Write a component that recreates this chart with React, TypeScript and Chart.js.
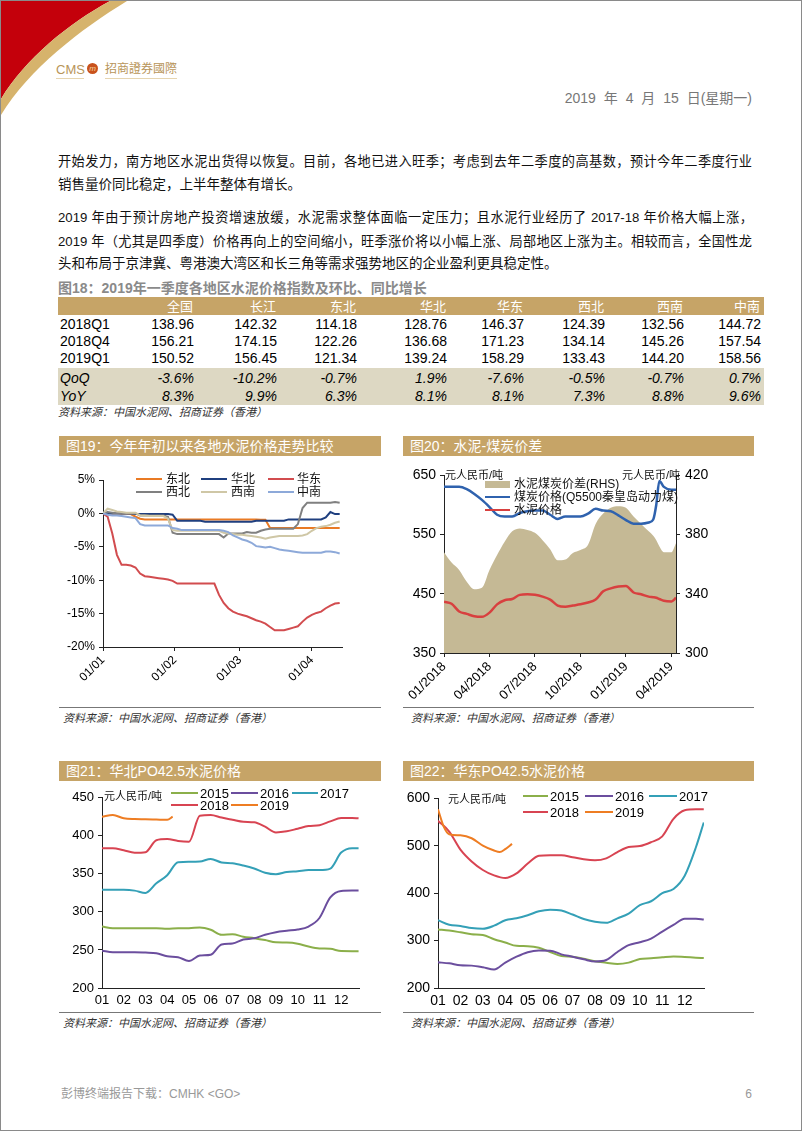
import React, { useEffect, useRef } from 'react';
import { Chart, registerables } from 'chart.js';
Chart.register(...registerables);

// ---------------- DATA ----------------
// Fig 18 table
const regions = ['全国', '长江', '东北', '华北', '华东', '西北', '西南', '中南'];
const rowLabels = ['2018Q1', '2018Q4', '2019Q1'];
const q2018Q1 = [138.96, 142.32, 114.18, 128.76, 146.37, 124.39, 132.56, 144.72];
const q2018Q4 = [156.21, 174.15, 122.26, 136.68, 171.23, 134.14, 145.26, 157.54];
const q2019Q1 = [150.52, 156.45, 121.34, 139.24, 158.29, 133.43, 144.2, 158.56];
const qoq = ['-3.6%', '-10.2%', '-0.7%', '1.9%', '-7.6%', '-0.5%', '-0.7%', '0.7%'];
const yoy = ['8.3%', '9.9%', '6.3%', '8.1%', '8.1%', '7.3%', '8.8%', '9.6%'];

// Fig 19 (% change since 1 Jan, by day of year)
const xTickDays19 = [0, 31, 59, 90];
const xTickLabels19 = ['01/01', '01/02', '01/03', '01/04'];
const days19 = [0, 2, 4, 6, 8, 10, 12, 14, 16, 18, 20, 22, 24, 26, 28, 30, 32, 34, 36, 38, 40, 42, 44, 46, 48, 50, 52, 54, 56, 58, 60, 62, 64, 66, 68, 70, 72, 74, 76, 78, 80, 82, 84, 86, 88, 90, 92, 94, 96, 98, 100, 102];
const northeast19 = [0, 0, 0, 0, 0, 0, -0.1, -0.5, -0.8, -0.9, -0.9, -0.9, -0.9, -0.9, -0.9, -0.9, -0.9, -0.9, -0.9, -0.9, -0.9, -0.9, -0.9, -0.9, -0.9, -0.9, -0.9, -0.9, -0.9, -0.9, -0.9, -0.9, -0.9, -0.9, -0.95, -0.95, -2.2, -2.2, -2.2, -2.2, -2.2, -2.2, -2.2, -2.2, -2.2, -2.2, -2.2, -2.2, -2.2, -2.2, -2.2, -2.2];
const north19 = [0, 0, 0, 0, 0, 0, 0, -0.1, -0.1, -0.1, -0.1, -0.1, -0.1, -0.1, -0.1, -0.2, -1.1, -1.1, -1.1, -1.1, -1.1, -1.1, -1.25, -1.25, -1.25, -1.25, -1.25, -1.25, -1.25, -1.25, -1.25, -1.25, -1.25, -1.1, -1.1, -1.1, -1.1, -1.1, -1.1, -1.1, -0.9, -0.9, -0.9, -0.9, -0.9, -0.9, -0.9, -0.9, -0.6, 0.2, -0.1, -0.1];
const east19 = [0, -0.5, -3.0, -6.2, -7.7, -7.7, -7.8, -8.1, -9.0, -9.4, -9.5, -9.6, -9.7, -9.8, -9.9, -10.1, -10.5, -10.5, -10.5, -10.5, -10.5, -10.5, -10.5, -10.5, -10.5, -12.2, -13.4, -14.2, -14.7, -15.0, -15.2, -15.4, -15.7, -16.0, -16.2, -16.5, -17.0, -17.5, -17.5, -17.5, -17.3, -17.1, -16.9, -16.2, -15.6, -15.2, -14.9, -14.7, -14.2, -13.8, -13.5, -13.4];
const northwest19 = [0, 0.2, 0.1, 0, 0, 0, 0, 0, -0.3, -0.3, -0.3, -0.3, -0.3, -0.3, -0.5, -2.9, -3.1, -3.1, -3.1, -3.1, -3.1, -3.1, -3.1, -3.1, -3.1, -3.1, -3.6, -3.0, -3.0, -3.0, -3.0, -2.8, -2.9, -2.9, -2.6, -2.4, -2.3, -2.3, -2.3, -2.3, -2.3, -2.3, -1.6, 0.8, 1.6, 1.6, 1.6, 1.6, 1.6, 1.6, 1.7, 1.6];
const southwest19 = [0, 0.7, 0.5, 0.3, 0.2, 0.1, 0.1, 0.1, -0.3, -0.3, -0.4, -0.4, -0.4, -0.4, -0.8, -2.5, -2.6, -2.6, -2.6, -2.6, -2.6, -2.6, -2.6, -2.6, -2.6, -2.6, -2.9, -3.0, -3.1, -3.2, -3.2, -3.3, -3.4, -3.5, -3.6, -3.8, -3.6, -3.5, -3.4, -3.4, -3.4, -3.4, -3.4, -3.3, -3.1, -2.6, -2.2, -2.0, -1.9, -1.7, -1.4, -1.2];
const central19 = [0, -0.2, -0.3, -0.3, -0.4, -0.5, -0.6, -0.7, -1.6, -1.8, -1.8, -1.8, -1.8, -1.8, -1.8, -2.2, -2.3, -2.5, -2.5, -2.5, -2.5, -2.5, -2.5, -2.5, -2.5, -2.5, -2.6, -2.8, -3.3, -3.6, -3.9, -4.1, -4.4, -4.9, -5.0, -5.1, -5.0, -5.2, -5.4, -5.5, -5.6, -5.7, -5.8, -5.9, -5.9, -5.9, -5.9, -5.9, -5.7, -5.7, -5.8, -6.0];

// Fig 20 (months since Jan 2018)
const xTickMonths20 = [0, 3, 6, 9, 12, 15];
const xTickLabels20 = ['01/2018', '04/2018', '07/2018', '10/2018', '01/2019', '04/2019'];
const months20 = [0, 0.5, 1, 1.5, 2, 2.5, 3, 3.5, 4, 4.5, 5, 5.5, 6, 6.5, 7, 7.5, 8, 8.5, 9, 9.5, 10, 10.5, 11, 11.5, 12, 12.5, 13, 13.5, 13.8, 14, 14.2, 14.5, 15, 15.3];
const spread20 = [368, 361, 356, 348, 343, 344, 356, 366, 375, 382, 384, 383, 381, 376, 370, 362.5, 363, 367.5, 369.5, 373, 387, 394, 398, 399, 398, 392, 387, 382, 379, 376, 372, 368, 368, 374];
const coal20 = [630, 630, 630, 626, 618, 608, 596, 583, 580, 580, 586, 589, 590, 590, 583, 576, 580, 580, 580, 585, 593, 590, 589, 582, 574, 568, 568, 570, 575, 600, 640, 630, 625, 625];
const cement20 = [436.5, 433, 420, 416, 412, 411, 418, 432, 439, 441, 448, 449, 448, 445, 440, 430, 428, 430, 432, 435, 440, 454, 459, 462, 463, 452, 449, 445, 444, 443, 441, 438, 437, 443];

// Fig 21 / 22 (month index, 0 = Jan)
const monthLabels = ['01', '02', '03', '04', '05', '06', '07', '08', '09', '10', '11', '12'];
const months21 = [0, 0.5, 1, 1.5, 2, 2.5, 3, 3.5, 4, 4.5, 5, 5.5, 6, 6.5, 7, 7.5, 8, 8.5, 9, 9.5, 10, 10.5, 11, 11.5, 11.8];
const n2015 = [280.8, 278.6, 278.6, 278.6, 278.6, 278.6, 278, 278.6, 278.6, 279.5, 276.5, 270, 270.5, 267.5, 265.5, 263, 260, 259.8, 258.3, 254.5, 252, 251.5, 248.5, 248.3, 248.3];
const n2016 = [249, 247, 247, 247, 246.5, 245.7, 241.7, 240.5, 235.5, 242.6, 243.8, 257.3, 258.5, 263.7, 265.3, 270, 273.4, 275.3, 276.8, 280.8, 292, 319, 327.5, 328, 328];
const n2017 = [329, 329, 329, 328, 325, 337.6, 348.3, 365.4, 365.8, 366.2, 369.7, 365, 364, 361, 357, 351.5, 349.5, 352.4, 353.5, 355, 355, 357, 378, 383.8, 383.8];
const n2018 = [383.8, 383.8, 381, 377.8, 378.5, 394.3, 395.8, 393.2, 392.3, 426.5, 427.4, 424, 421.2, 418.5, 417.8, 412, 404.5, 406, 409.4, 412.8, 414, 419, 423.5, 423.5, 423];
const months21y19 = [0, 0.5, 1, 1.5, 2, 2.5, 3, 3.25];
const n2019 = [425.2, 427.4, 423, 422, 421.8, 421.4, 421, 425.2];

const months22 = [0, 0.5, 1, 1.5, 2, 2.5, 3, 3.5, 4, 4.5, 5, 5.5, 6, 6.5, 7, 7.5, 8, 8.5, 9, 9.5, 10, 10.5, 11, 11.5, 11.85];
const e2015 = [323.6, 321.2, 317.5, 313.5, 311.9, 302.8, 296, 288.9, 288.2, 285, 276, 267.5, 265.8, 262, 256.5, 253.5, 250.7, 253.5, 261.2, 262.8, 265, 266.7, 265.5, 264, 263.2];
const e2016 = [254.2, 252, 248, 247.2, 243.8, 239, 253.5, 266, 275.5, 279, 278.8, 271, 266, 260.5, 255.8, 259, 276, 290.5, 296.5, 304.2, 319, 333, 346, 346, 344.4];
const e2017 = [343, 333.5, 331, 326.5, 325, 331.5, 343, 347, 353.5, 362, 365.3, 363.5, 355, 345.5, 339.8, 337.5, 347, 357, 375, 383, 400, 409, 437, 497, 549.3];
const e2018 = [552.8, 530, 492, 467, 449, 437.5, 432, 441.7, 462.5, 478.8, 479.9, 479.9, 476, 471.5, 469.4, 473.5, 486.8, 497.5, 499.5, 507.6, 520, 557, 575, 577, 577];
const months22y19 = [0, 0.25, 0.5, 1, 1.5, 2, 2.5, 2.75, 3, 3.3];
const e2019 = [577, 541, 524.5, 522, 516, 500.5, 490, 486.8, 493, 504];

// Text
const para1 = [
  '开始发力，南方地区水泥出货得以恢复。目前，各地已进入旺季；考虑到去年二季度的高基数，预计今年二季度行业',
  '销售量价同比稳定，上半年整体有增长。',
];
const para2 = [
  '2019 年由于预计房地产投资增速放缓，水泥需求整体面临一定压力；且水泥行业经历了 2017-18 年价格大幅上涨，',
  '2019 年（尤其是四季度）价格再向上的空间缩小，旺季涨价将以小幅上涨、局部地区上涨为主。相较而言，全国性龙',
  '头和布局于京津冀、粤港澳大湾区和长三角等需求强势地区的企业盈利更具稳定性。',
];
const sourceText = '资料来源：中国水泥网、招商证券（香港）';

// ---------------- STYLE ----------------
const GOLD = '#C6A467';
const BEIGE = '#DDD8C3';
const CJK = '"Liberation Sans", "Noto Sans CJK SC", sans-serif';
const LAT = '"Liberation Sans", Arial, sans-serif';
const AX = '#222';
const C19 = ['#E97A24', '#1F3F7F', '#D24C4F', '#808080', '#CFC7A6', '#8DA9D9'];
const CY = { y2015: '#8BAF4A', y2016: '#6B4E9E', y2017: '#34A0B7', y2018: '#D84452', y2019: '#EE7D23' };

const tickFont = (s: number) => ({ family: LAT, size: s });

function pts(xs: number[], ys: number[]) {
  return xs.map((x, i) => ({ x, y: ys[i] }));
}

function baseOptions(pad: any) {
  return {
    responsive: false,
    animation: false,
    events: [],
    layout: { padding: pad },
    plugins: { legend: { display: false }, tooltip: { enabled: false } },
  };
}

function make19(): any {
  const list: [string, number[]][] = [
    ['东北', northeast19], ['华北', north19], ['华东', east19],
    ['西北', northwest19], ['西南', southwest19], ['中南', central19],
  ];
  return {
    type: 'line',
    data: {
      datasets: list.map(([label, vals], i) => ({
        label, data: pts(days19, vals), borderColor: C19[i], backgroundColor: C19[i],
        borderWidth: 2, pointRadius: 0, tension: 0, order: list.length - i,
      })),
    },
    options: {
      ...baseOptions({ left: 0, right: 39, top: 19, bottom: 4 }),
      scales: {
        x: {
          type: 'linear', min: 0, max: 103,
          afterBuildTicks: (s: any) => { s.ticks = xTickDays19.map((v) => ({ value: v })); },
          afterFit: (s: any) => { s.height = 50; },
          ticks: {
            autoSkip: false, minRotation: 45, maxRotation: 45, padding: 2, color: '#000', font: tickFont(12),
            callback: (v: any) => xTickLabels19[xTickDays19.indexOf(Number(v))] ?? '',
          },
          grid: { drawOnChartArea: false, drawTicks: true, tickLength: 4, color: AX },
          border: { color: AX },
        },
        y: {
          min: -20, max: 5,
          afterFit: (s: any) => { s.width = 45; },
          ticks: { stepSize: 5, padding: 4, color: '#000', font: tickFont(12), callback: (v: any) => v + '%' },
          grid: { drawOnChartArea: false, tickLength: 4, color: AX },
          border: { color: AX },
        },
      },
    },
  };
}

function make20(): any {
  return {
    type: 'line',
    data: {
      datasets: [
        { label: '水泥煤炭价差(RHS)', data: pts(months20, spread20), yAxisID: 'y1', fill: 'start',
          backgroundColor: '#C5B995', borderColor: '#C5B995', borderWidth: 0, pointRadius: 0, tension: 0.3, cubicInterpolationMode: 'monotone', order: 10 },
        { label: '煤炭价格(Q5500秦皇岛动力煤)', data: pts(months20, coal20), yAxisID: 'y',
          borderColor: '#2F62AE', borderWidth: 2.5, pointRadius: 0, tension: 0.3, cubicInterpolationMode: 'monotone', order: 1 },
        { label: '水泥价格', data: pts(months20, cement20), yAxisID: 'y',
          borderColor: '#D8403F', borderWidth: 2.5, pointRadius: 0, tension: 0.3, cubicInterpolationMode: 'monotone', order: 2 },
      ],
    },
    options: {
      ...baseOptions({ left: 0, right: 0, top: 14, bottom: 4 }),
      scales: {
        x: {
          type: 'linear', min: 0, max: 15.3,
          afterBuildTicks: (s: any) => { s.ticks = xTickMonths20.map((v) => ({ value: v })); },
          afterFit: (s: any) => { s.height = 50; },
          ticks: {
            autoSkip: false, minRotation: 45, maxRotation: 45, padding: 2, color: '#000', font: tickFont(13),
            callback: (v: any) => xTickLabels20[xTickMonths20.indexOf(Number(v))] ?? '',
          },
          grid: { drawOnChartArea: false, tickLength: 4, color: AX },
          border: { color: AX },
        },
        y: {
          min: 350, max: 650, position: 'left',
          afterFit: (s: any) => { s.width = 41; },
          ticks: { stepSize: 100, padding: 4, color: '#000', font: tickFont(14) },
          grid: { drawOnChartArea: false, tickLength: 4, color: AX },
          border: { color: AX },
        },
        y1: {
          min: 300, max: 420, position: 'right',
          afterFit: (s: any) => { s.width = 78; },
          ticks: { stepSize: 40, padding: 5, color: '#000', font: tickFont(14) },
          grid: { drawOnChartArea: false, tickLength: 4, color: AX },
          border: { color: AX },
        },
      },
    },
  };
}

function makeYearly(xs: number[], series: [string, number[], string][], xs19: number[], v19: number[], c19: string,
  xmax: number, ymin: number, ymax: number, step: number, yw: number, padRight: number, fs: number): any {
  const ds: any[] = series.map(([label, vals, color], i) => ({
    label, data: pts(xs, vals), borderColor: color, borderWidth: 2, pointRadius: 0,
    tension: 0.3, cubicInterpolationMode: 'monotone', order: 10 - i,
  }));
  ds.push({ label: '2019', data: pts(xs19, v19), borderColor: c19, borderWidth: 2, pointRadius: 0,
    tension: 0.3, cubicInterpolationMode: 'monotone', order: 1 });
  return {
    type: 'line',
    data: { datasets: ds },
    options: {
      ...baseOptions({ left: 0, right: padRight, top: 8, bottom: 2 }),
      scales: {
        x: {
          type: 'linear', min: 0, max: xmax,
          afterBuildTicks: (s: any) => { s.ticks = monthLabels.map((_, i) => ({ value: i })); },
          afterFit: (s: any) => { s.height = 20; },
          ticks: { autoSkip: false, maxRotation: 0, padding: 5, color: '#000', font: tickFont(fs),
            callback: (v: any) => monthLabels[Number(v)] ?? '' },
          grid: { drawOnChartArea: false, drawTicks: false, color: AX },
          border: { color: AX },
        },
        y: {
          min: ymin, max: ymax,
          afterFit: (s: any) => { s.width = yw; },
          ticks: { stepSize: step, padding: 4, color: '#000', font: tickFont(fs) },
          grid: { drawOnChartArea: false, tickLength: 4, color: AX },
          border: { color: AX },
        },
      },
    },
  };
}

const make21 = () => makeYearly(months21,
  [['2015', n2015, CY.y2015], ['2016', n2016, CY.y2016], ['2017', n2017, CY.y2017], ['2018', n2018, CY.y2018]],
  months21y19, n2019, CY.y2019, 11.82, 200, 450, 50, 44, 22, 13);
const make22 = () => makeYearly(months22,
  [['2015', e2015, CY.y2015], ['2016', e2016, CY.y2016], ['2017', e2017, CY.y2017], ['2018', e2018, CY.y2018]],
  months22y19, e2019, CY.y2019, 11.86, 200, 600, 100, 35, 50, 14);

// ---------------- COMPONENTS ----------------
function ChartCanvas({ x, y, w, h, make }: { x: number; y: number; w: number; h: number; make: () => any }) {
  const ref = useRef<HTMLCanvasElement | null>(null);
  useEffect(() => {
    const c = new Chart(ref.current as HTMLCanvasElement, make());
    return () => c.destroy();
  }, []);
  return <canvas ref={ref} width={w} height={h} style={{ position: 'absolute', left: x, top: y, width: w, height: h }} />;
}

type TP = { x: number; y: number; size?: number; color?: string; w?: number; align?: 'left' | 'right' | 'justify';
  bold?: boolean; italic?: boolean; font?: string; spacing?: number; children: any };
function Txt({ x, y, size = 14, color = '#000', w, align = 'left', bold, italic, font = CJK, spacing, children }: TP) {
  const lh = Math.round(size * 1.3);
  const st: any = {
    position: 'absolute', top: y - lh / 2, lineHeight: lh + 'px', fontSize: size, color, fontFamily: font,
    fontWeight: bold ? 700 : 400, fontStyle: italic ? 'italic' : 'normal',
  };
  if (spacing) st.wordSpacing = spacing;
  if (align === 'right') {
    const ww = w ?? 300;
    st.left = x - ww; st.width = ww; st.textAlign = 'right'; st.whiteSpace = 'nowrap';
  } else if (align === 'justify') {
    st.left = x; st.width = w; st.textAlign = 'justify'; st.textAlignLast = 'justify'; st.height = lh; st.overflow = 'visible';
  } else {
    st.left = x; st.whiteSpace = 'nowrap';
  }
  return <div style={st}>{children}</div>;
}

function Box({ x, y, w, h, bg }: { x: number; y: number; w: number; h: number; bg: string }) {
  return <div style={{ position: 'absolute', left: x, top: y, width: w, height: h, background: bg }} />;
}

function TitleBar({ x, y, w, text }: { x: number; y: number; w: number; text: string }) {
  return (
    <div style={{ position: 'absolute', left: x, top: y, width: w, height: 20, background: GOLD, color: '#fff',
      fontSize: 14, lineHeight: '20px', paddingLeft: 7, boxSizing: 'border-box', fontFamily: CJK, whiteSpace: 'nowrap' }}>
      {text}
    </div>
  );
}

function LineKey({ x1, x2, y, color, t = 2.5 }: { x1: number; x2: number; y: number; color: string; t?: number }) {
  return <div style={{ position: 'absolute', left: x1, top: y - t / 2, width: x2 - x1, height: t, background: color }} />;
}

const colRight = [193, 276, 356, 446, 523, 604, 683, 760];

function Table() {
  const rows = [q2018Q1, q2018Q4, q2019Q1];
  const rowY = [323, 340, 357];
  return (
    <>
      <Txt x={57} y={287} size={14} bold color="#8a8a8a">图18：2019年一季度各地区水泥价格指数及环比、同比增长</Txt>
      <Box x={57} y={296} w={706} h={18} bg={GOLD} />
      {regions.map((r, i) => (
        <Txt key={r} x={colRight[i] - 1} y={305} size={13} color="#fff" align="right" w={70}>{r}</Txt>
      ))}
      {rows.map((vals, ri) => (
        <React.Fragment key={ri}>
          <Txt x={59} y={rowY[ri]} size={14} font={LAT}>{rowLabels[ri]}</Txt>
          {vals.map((v, i) => (
            <Txt key={i} x={colRight[i]} y={rowY[ri]} size={14} font={LAT} align="right" w={70}>{v.toFixed(2)}</Txt>
          ))}
        </React.Fragment>
      ))}
      <Box x={57} y={367} w={706} h={37} bg={BEIGE} />
      <Txt x={59} y={377} size={14} font={LAT} italic>QoQ</Txt>
      {qoq.map((v, i) => (
        <Txt key={i} x={colRight[i]} y={377} size={14} font={LAT} italic align="right" w={70}>{v}</Txt>
      ))}
      <Txt x={59} y={395} size={14} font={LAT} italic>YoY</Txt>
      {yoy.map((v, i) => (
        <Txt key={i} x={colRight[i]} y={395} size={14} font={LAT} italic align="right" w={70}>{v}</Txt>
      ))}
      <Txt x={57} y={411} size={11} italic color="#333">{sourceText}</Txt>
    </>
  );
}

export default function App() {
  const unitStyle = { size: 11, color: '#111' };
  return (
    <div style={{ position: 'absolute', left: 0, top: 0, width: 802, height: 1131, boxSizing: 'border-box',
      border: '1px solid #8a8a8a', background: '#fff', overflow: 'hidden', fontFamily: CJK }}>
      {/* corner decoration */}
      <svg width={140} height={130} style={{ position: 'absolute', left: 0, top: 0 }}>
        <path d="M0,0 L109,0 C68,22 24,58 0,98 Z" fill="#C4000B" />
        <path d="M109,0 L126,0 C80,28 28,68 0,114 L0,98 C24,58 68,22 109,0 Z" fill="#D6B36C" />
      </svg>
      {/* logo */}
      <Txt x={55} y={68} size={13} color="#B8955A" font={LAT}>CMS</Txt>
      <div style={{ position: 'absolute', left: 86, top: 62, width: 11, height: 11, borderRadius: 6, background: '#C9521C',
        color: '#F5D8A0', fontSize: 8, lineHeight: '11px', textAlign: 'center', fontFamily: LAT, fontStyle: 'italic' }}>m</div>
      <Txt x={104} y={68} size={12} color="#B8955A">招商證券國際</Txt>
      <Box x={55} y={77} w={28} h={1} bg="#E6D5B0" />
      <Box x={104} y={77} w={72} h={1} bg="#E6D5B0" />
      {/* date */}
      <Txt x={751} y={97} size={14} color="#777" align="right" w={250} spacing={4}>2019 年 4 月 15 日(星期一)</Txt>

      {/* body text */}
      <Txt x={57} y={160} size={13.2} w={694} align="justify" color="#111">{para1[0]}</Txt>
      <Txt x={57} y={184} size={13.5} color="#111">{para1[1]}</Txt>
      <Txt x={57} y={216} size={13.2} w={695} align="justify" color="#111">{para2[0]}</Txt>
      <Txt x={57} y={240} size={13.2} w={694} align="justify" color="#111">{para2[1]}</Txt>
      <Txt x={57} y={263} size={13.5} color="#111">{para2[2]}</Txt>

      <Table />

      {/* Fig 19 */}
      <TitleBar x={58} y={435} w={322} text="图19：今年年初以来各地水泥价格走势比较" />
      <ChartCanvas x={57} y={460} w={323} h={240} make={make19} />
      {[['东北', 135, 165, 478], ['华北', 200, 230, 478], ['华东', 267, 296, 478],
        ['西北', 135, 165, 491], ['西南', 200, 230, 491], ['中南', 267, 296, 491]].map(([lab, lx, tx, ly], i) => (
        <React.Fragment key={String(lab)}>
          <LineKey x1={lx as number} x2={(lx as number) + 26} y={ly as number} color={C19[i]} />
          <Txt x={tx as number} y={ly as number} size={12} color="#111">{lab}</Txt>
        </React.Fragment>
      ))}
      <Box x={58} y={706} w={322} h={1} bg="#777" />
      <Txt x={62} y={717} size={11} italic color="#333">{sourceText}</Txt>

      {/* Fig 20 */}
      <TitleBar x={402} y={435} w={351} text="图20：水泥-煤炭价差" />
      <ChartCanvas x={402} y={460} w={351} h={246} make={make20} />
      <Txt x={444} y={474} {...unitStyle}>元人民币/吨</Txt>
      <Txt x={679} y={474} {...unitStyle} align="right" w={80}>元人民币/吨</Txt>
      <Box x={484} y={480} w={25} h={7} bg="#C5B995" />
      <Txt x={513} y={483} size={12} color="#111">水泥煤炭价差(RHS)</Txt>
      <LineKey x1={484} x2={509} y={496} color="#2F62AE" />
      <Txt x={513} y={496} size={12} color="#111">煤炭价格(Q5500秦皇岛动力煤)</Txt>
      <LineKey x1={484} x2={509} y={509} color="#D8403F" />
      <Txt x={513} y={509} size={12} color="#111">水泥价格</Txt>
      <Box x={402} y={706} w={351} h={1} bg="#777" />
      <Txt x={410} y={717} size={11} italic color="#333">{sourceText}</Txt>

      {/* Fig 21 */}
      <TitleBar x={58} y={760} w={322} text="图21：华北PO42.5水泥价格" />
      <ChartCanvas x={57} y={785} w={323} h={224} make={make21} />
      <Txt x={103} y={795} {...unitStyle}>元人民币/吨</Txt>
      <LineKey x1={170} x2={197} y={792} color={CY.y2015} />
      <Txt x={199} y={792} size={13} font={LAT}>2015</Txt>
      <LineKey x1={230} x2={257} y={792} color={CY.y2016} />
      <Txt x={259} y={792} size={13} font={LAT}>2016</Txt>
      <LineKey x1={291} x2={317} y={792} color={CY.y2017} />
      <Txt x={319} y={792} size={13} font={LAT}>2017</Txt>
      <LineKey x1={170} x2={197} y={804} color={CY.y2018} />
      <Txt x={199} y={804} size={13} font={LAT}>2018</Txt>
      <LineKey x1={230} x2={257} y={804} color={CY.y2019} />
      <Txt x={259} y={804} size={13} font={LAT}>2019</Txt>
      <Box x={58} y={1011} w={322} h={1} bg="#777" />
      <Txt x={62} y={1022} size={11} italic color="#333">{sourceText}</Txt>

      {/* Fig 22 */}
      <TitleBar x={402} y={760} w={351} text="图22：华东PO42.5水泥价格" />
      <ChartCanvas x={402} y={785} w={351} h={224} make={make22} />
      <Txt x={447} y={798} {...unitStyle}>元人民币/吨</Txt>
      <LineKey x1={522} x2={547} y={795} color={CY.y2015} />
      <Txt x={549} y={795} size={13} font={LAT}>2015</Txt>
      <LineKey x1={584} x2={612} y={795} color={CY.y2016} />
      <Txt x={614} y={795} size={13} font={LAT}>2016</Txt>
      <LineKey x1={648} x2={676} y={795} color={CY.y2017} />
      <Txt x={678} y={795} size={13} font={LAT}>2017</Txt>
      <LineKey x1={522} x2={547} y={811} color={CY.y2018} />
      <Txt x={549} y={811} size={13} font={LAT}>2018</Txt>
      <LineKey x1={584} x2={612} y={811} color={CY.y2019} />
      <Txt x={614} y={811} size={13} font={LAT}>2019</Txt>
      <Box x={402} y={1011} w={351} h={1} bg="#777" />
      <Txt x={410} y={1022} size={11} italic color="#333">{sourceText}</Txt>

      {/* footer */}
      <Txt x={60} y={1093} size={12} color="#999">彭博终端报告下载：CMHK &lt;GO&gt;</Txt>
      <Txt x={751} y={1093} size={12} color="#999" align="right" w={20}>6</Txt>
    </div>
  );
}
